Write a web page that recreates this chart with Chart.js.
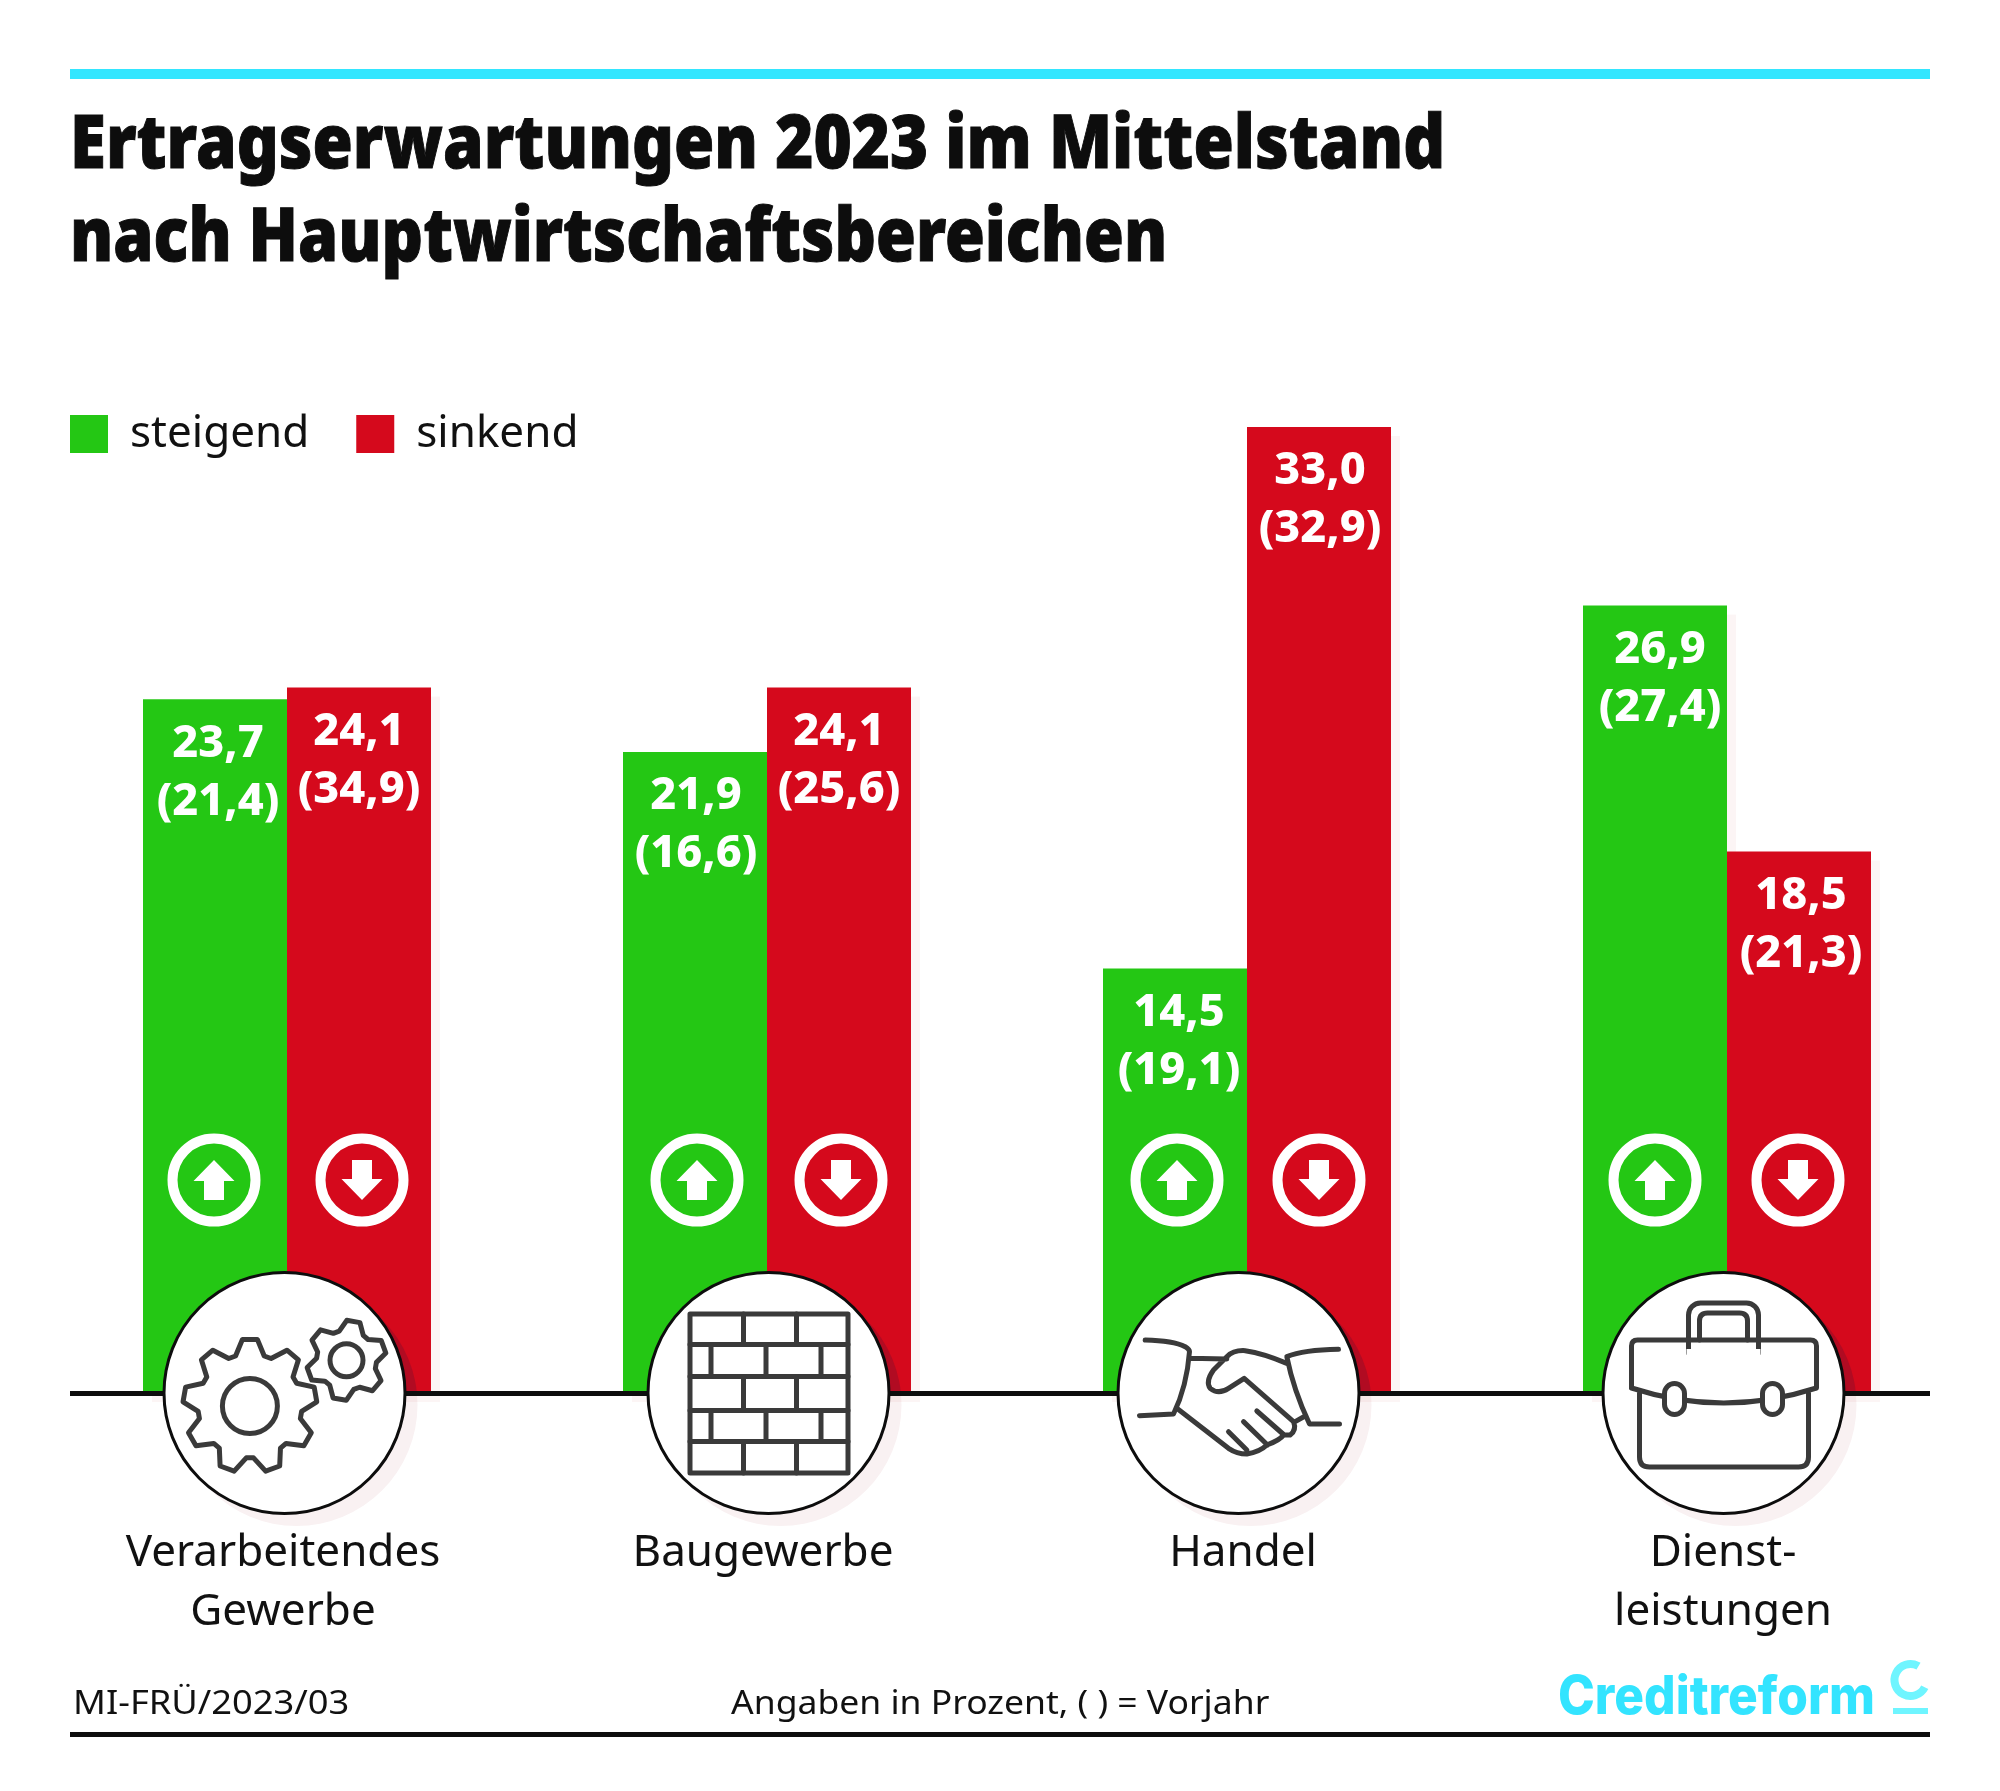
<!DOCTYPE html>
<html lang="de">
<head>
    <meta charset="UTF-8">
    <title>Ertragserwartungen 2023 im Mittelstand</title>
    <script src="https://cdn.jsdelivr.net/npm/chart.js"></script>
    <style>
        body {
            margin: 0;
            background: #fff;
            font-family: "Noto Sans", sans-serif;
            color: #111;
        }

        #page {
            position: relative;
            width: 2000px;
            height: 1791px;
            overflow: hidden;
        }

        #page canvas {
            position: absolute;
            left: 0;
            top: 0;
        }

        .rule {
            position: absolute;
            left: 70px;
            width: 1860px;
        }

        .line {
            position: absolute;
            white-space: nowrap;
            line-height: 1;
            transform-origin: left top;
        }

        .headline {
            left: 70px;
            font-weight: 900;
            font-size: 74px;
            color: #0d0d0d;
            -webkit-text-stroke: 1px #0d0d0d;
        }

        .foot {
            font-size: 33px;
            top: 1685px;
        }

        #brand {
            left: 1558px;
            top: 1669px;
            font-family: Inter, sans-serif;
            font-weight: 800;
            font-size: 53px;
            color: #33e4ff;
        }
    </style>
</head>
<body>
<div id="page">
    <canvas id="chart" width="2000" height="1791"></canvas>
    <div class="rule" style="top:69px;height:10px;background:#33e6ff"></div>
    <div class="line headline" id="h1" style="top:103px">Ertragserwartungen 2023 im Mittelstand</div>
    <div class="line headline" id="h2" style="top:196px">nach Hauptwirtschaftsbereichen</div>
    <div class="line foot" id="f1" style="left:73px">MI-FRÜ/2023/03</div>
    <div class="line foot" id="f2" style="left:731px">Angaben in Prozent, ( ) = Vorjahr</div>
    <div class="line" id="brand">Creditreform</div>
    <div class="rule" style="top:1732px;height:5px;background:#0d0d0d"></div>
</div>
<script>
    const categories = [['Verarbeitendes', 'Gewerbe'], 'Baugewerbe', 'Handel', ['Dienst-', 'leistungen']];
    const steigend = [23.7, 21.9, 14.5, 26.9];
    const sinkend = [24.1, 24.1, 33.0, 18.5];
    const steigendVorjahr = [21.4, 16.6, 19.1, 27.4];
    const sinkendVorjahr = [34.9, 25.6, 32.9, 21.3];

    const GREEN = '#24c714';
    const RED = '#d5091c';
    const ICON = '#3a3a3a';

    // small hand corrections, the original is not quite regular
    const circleNudge = [-2.5, 1.5, -8.5, -3.5];
    const arrowNudge = [[-1, 2, 2, 0], [3, 2, 0, -1]];
    const labelNudge = [[3, 1, 4, 5], [0, 0, 1, 2]];

    function fmt(v) {
        return v.toFixed(1).replace('.', ',');
    }

    function fitWidth(id, width) {
        const el = document.getElementById(id);
        el.style.transform = 'scaleX(' + (width / el.offsetWidth) + ')';
    }

    function gearPath(ctx, cx, cy, teeth, outer, root, start) {
        const step = Math.PI * 2 / teeth;
        ctx.beginPath();
        for (let i = 0; i < teeth; i++) {
            const a = start + i * step;
            const pts = [[-0.5, root], [-0.2, outer], [0.2, outer], [0.5, root]];
            pts.forEach(p => {
                const t = a + p[0] * step * 0.8;
                ctx.lineTo(cx + Math.cos(t) * p[1], cy + Math.sin(t) * p[1]);
            });
        }
        ctx.closePath();
        ctx.stroke();
    }

    function drawGears(ctx) {
        gearPath(ctx, -34.6, 13, 9, 67, 52, -Math.PI / 2);
        ctx.beginPath();
        ctx.arc(-34.6, 13, 27.5, 0, Math.PI * 2);
        ctx.stroke();
        gearPath(ctx, 62, -32.7, 6, 40, 30, -80 * Math.PI / 180);
        ctx.beginPath();
        ctx.arc(62, -32.7, 16.5, 0, Math.PI * 2);
        ctx.stroke();
    }

    function drawBricks(ctx) {
        ctx.strokeRect(-78.5, -79, 158, 159);
        ctx.beginPath();
        [-48.5, -16.5, 17.5, 48.5].forEach(y => {
            ctx.moveTo(-78.5, y);
            ctx.lineTo(79.5, y);
        });
        [[-79, -48.5], [-16.5, 17.5], [48.5, 80]].forEach(r => {
            [-25, 28].forEach(x => {
                ctx.moveTo(x, r[0]);
                ctx.lineTo(x, r[1]);
            });
        });
        [[-48.5, -16.5], [17.5, 48.5]].forEach(r => {
            [-57.5, -2.5, 52.5].forEach(x => {
                ctx.moveTo(x, r[0]);
                ctx.lineTo(x, r[1]);
            });
        });
        ctx.stroke();
    }

    function drawHands(ctx) {
        ctx.save();
        ctx.translate(-325 / 3, -279 / 3);
        ctx.scale(1 / 3, 1 / 3);
        ctx.lineWidth = 15;
        ctx.beginPath();
        // cuffs
        ctx.moveTo(45, 120);
        ctx.quadraticCurveTo(130, 122, 165, 140);
        ctx.quadraticCurveTo(178, 148, 178, 155);
        ctx.quadraticCurveTo(170, 260, 130, 342);
        ctx.lineTo(28, 347);
        ctx.moveTo(178, 175);
        ctx.lineTo(290, 177);
        ctx.moveTo(625, 148);
        ctx.quadraticCurveTo(520, 150, 470, 170);
        ctx.quadraticCurveTo(490, 270, 538, 372);
        ctx.lineTo(628, 372);
        // hand outline
        ctx.moveTo(470, 190);
        ctx.quadraticCurveTo(400, 160, 345, 152);
        ctx.quadraticCurveTo(310, 150, 290, 170);
        ctx.lineTo(250, 210);
        ctx.quadraticCurveTo(225, 245, 240, 265);
        ctx.quadraticCurveTo(265, 285, 295, 265);
        ctx.lineTo(342, 235);
        ctx.lineTo(490, 365);
        ctx.quadraticCurveTo(500, 390, 480, 405);
        ctx.lineTo(460, 405);
        ctx.quadraticCurveTo(450, 420, 410, 435);
        ctx.quadraticCurveTo(390, 455, 350, 462);
        ctx.quadraticCurveTo(320, 462, 295, 445);
        ctx.lineTo(140, 325);
        // fingers
        ctx.moveTo(295, 395);
        ctx.lineTo(350, 450);
        ctx.moveTo(340, 365);
        ctx.lineTo(412, 435);
        ctx.moveTo(380, 333);
        ctx.lineTo(462, 405);
        ctx.moveTo(495, 365);
        ctx.lineTo(525, 348);
        ctx.stroke();
        ctx.restore();
    }

    function drawCase(ctx) {
        ctx.beginPath();
        ctx.roundRect(-35, -90, 70, 50, [12, 12, 0, 0]);
        ctx.moveTo(-24, -53);
        ctx.lineTo(-24, -72);
        ctx.quadraticCurveTo(-24, -80, -16, -80);
        ctx.lineTo(16, -80);
        ctx.quadraticCurveTo(24, -80, 24, -72);
        ctx.lineTo(24, -53);
        ctx.stroke();
        ctx.fillStyle = '#fff';
        ctx.fillRect(-37, -44, 74, 10);
        ctx.beginPath();
        ctx.moveTo(-92, -5);
        ctx.lineTo(-92, -47);
        ctx.quadraticCurveTo(-92, -53, -86, -53);
        ctx.lineTo(87, -53);
        ctx.quadraticCurveTo(93, -53, 93, -47);
        ctx.lineTo(93, -5);
        ctx.quadraticCurveTo(0, 25, -92, -5);
        ctx.moveTo(-84, 0);
        ctx.lineTo(-84, 64);
        ctx.quadraticCurveTo(-84, 74, -74, 74);
        ctx.lineTo(75, 74);
        ctx.quadraticCurveTo(85, 74, 85, 64);
        ctx.lineTo(85, 0);
        ctx.stroke();
        [-49, 49].forEach(x => {
            ctx.beginPath();
            ctx.roundRect(x - 10, -9.5, 20, 31, 10);
            ctx.fillStyle = '#fff';
            ctx.fill();
            ctx.stroke();
        });
    }

    const icons = [drawGears, drawBricks, drawHands, drawCase];

    function drawArrow(ctx, x, y, up) {
        const d = up ? 1 : -1;
        ctx.beginPath();
        ctx.moveTo(x, y - 20 * d);
        ctx.lineTo(x + 20.5, y + d);
        ctx.lineTo(x + 10, y + d);
        ctx.lineTo(x + 10, y + 20 * d);
        ctx.lineTo(x - 10, y + 20 * d);
        ctx.lineTo(x - 10, y + d);
        ctx.lineTo(x - 20.5, y + d);
        ctx.closePath();
        ctx.fill();
    }

    const decorations = {
        id: 'decorations',
        afterLayout(chart) {
            // legend sits over the plot, left of the tall bars
            const lg = chart.legend;
            lg.left = 23;
            lg.right = 23 + lg.width;
            lg.top = 365;
            lg.bottom = 365 + lg.height;
        },
        beforeDatasetsDraw(chart) {
            const ctx = chart.ctx;
            ctx.save();
            ctx.fillStyle = '#fcf5f5';
            chart.data.datasets.forEach((ds, d) => {
                chart.getDatasetMeta(d).data.forEach(bar => {
                    ctx.fillRect(bar.x - bar.width / 2 + 9, bar.y + 9, bar.width, bar.base - bar.y);
                });
            });
            ctx.restore();
        },
        afterDatasetsDraw(chart) {
            const ctx = chart.ctx;
            const base = chart.scales.y.getPixelForValue(0);
            const xs = chart.scales.x;

            ctx.save();
            ctx.fillStyle = '#0d0d0d';
            ctx.fillRect(70, base - 2, 1860, 5);

            // value labels and arrows inside the bars
            chart.data.datasets.forEach((ds, d) => {
                const prev = d === 0 ? steigendVorjahr : sinkendVorjahr;
                chart.getDatasetMeta(d).data.forEach((bar, i) => {
                    const lx = bar.x + labelNudge[d][i];
                    ctx.fillStyle = '#fff';
                    ctx.font = '800 45px "Noto Sans", sans-serif';
                    ctx.textAlign = 'center';
                    ctx.textBaseline = 'middle';
                    ctx.fillText(fmt(ds.data[i]), lx, bar.y + 44.5);
                    ctx.fillText('(' + fmt(prev[i]) + ')', lx, bar.y + 102.5);

                    const ax = bar.x + arrowNudge[d][i];
                    const ay = base - 213;
                    ctx.strokeStyle = '#fff';
                    ctx.lineWidth = 10;
                    ctx.beginPath();
                    ctx.arc(ax, ay, 41.5, 0, Math.PI * 2);
                    ctx.stroke();
                    drawArrow(ctx, ax, ay, d === 0);
                });
            });

            // round pictograms sitting on the axis line
            categories.forEach((c, i) => {
                const cx = xs.getPixelForValue(i) + circleNudge[i];
                const red = chart.getDatasetMeta(1).data[i];

                ctx.save();
                ctx.globalCompositeOperation = 'multiply';
                ctx.fillStyle = '#f9f1f2';
                ctx.beginPath();
                ctx.arc(cx + 12, base + 12, 121, 0, Math.PI * 2);
                ctx.fill();
                ctx.restore();

                ctx.save();
                ctx.beginPath();
                ctx.rect(red.x - red.width / 2, red.y, red.width, base - red.y - 2);
                ctx.clip();
                ctx.fillStyle = 'rgba(70,20,60,0.22)';
                ctx.beginPath();
                ctx.arc(cx + 12, base + 12, 121, 0, Math.PI * 2);
                ctx.fill();
                ctx.restore();

                ctx.fillStyle = '#fff';
                ctx.strokeStyle = '#0d0d0d';
                ctx.lineWidth = 3;
                ctx.beginPath();
                ctx.arc(cx, base, 120.5, 0, Math.PI * 2);
                ctx.fill();
                ctx.stroke();

                ctx.save();
                ctx.translate(cx, base);
                ctx.strokeStyle = ICON;
                ctx.lineWidth = 5;
                ctx.lineJoin = 'round';
                ctx.lineCap = 'round';
                icons[i](ctx);
                ctx.restore();
            });

            // Creditreform mark
            ctx.strokeStyle = '#6ff5ff';
            ctx.fillStyle = '#6ff5ff';
            ctx.lineWidth = 8;
            ctx.beginPath();
            ctx.arc(1910.5, 1680, 16, 27 * Math.PI / 180, 300 * Math.PI / 180);
            ctx.stroke();
            ctx.fillRect(1893, 1708, 35, 6);
            ctx.restore();
        }
    };

    new Chart(document.getElementById('chart').getContext('2d'), {
        type: 'bar',
        data: {
            labels: categories,
            datasets: [
                {label: 'steigend', data: steigend, backgroundColor: GREEN},
                {label: 'sinkend', data: sinkend, backgroundColor: RED}
            ]
        },
        options: {
            responsive: false,
            animation: false,
            devicePixelRatio: 1,
            layout: {padding: {left: 47, right: 33, top: 0, bottom: 0}},
            datasets: {bar: {categoryPercentage: 0.6, barPercentage: 1, borderWidth: 0}},
            scales: {
                x: {
                    grid: {display: false},
                    border: {display: false},
                    afterFit(scale) {
                        scale.height = 398;
                    },
                    ticks: {
                        autoSkip: false,
                        maxRotation: 0,
                        labelOffset: -4,
                        padding: 123,
                        color: '#111',
                        font: {family: '"Noto Sans", sans-serif', size: 44, lineHeight: 1.34}
                    }
                },
                y: {
                    display: false,
                    min: 0,
                    max: 44.14
                }
            },
            plugins: {
                tooltip: {enabled: false},
                legend: {
                    position: 'top',
                    align: 'start',
                    labels: {
                        boxWidth: 38,
                        boxHeight: 38,
                        padding: 47,
                        color: '#111',
                        font: {family: '"Noto Sans", sans-serif', size: 44}
                    }
                }
            }
        },
        plugins: [decorations]
    });

    fitWidth('h1', 1375);
    fitWidth('h2', 1097);
    fitWidth('f1', 276);
    fitWidth('f2', 538);
    fitWidth('brand', 317);
</script>
</body>
</html>
